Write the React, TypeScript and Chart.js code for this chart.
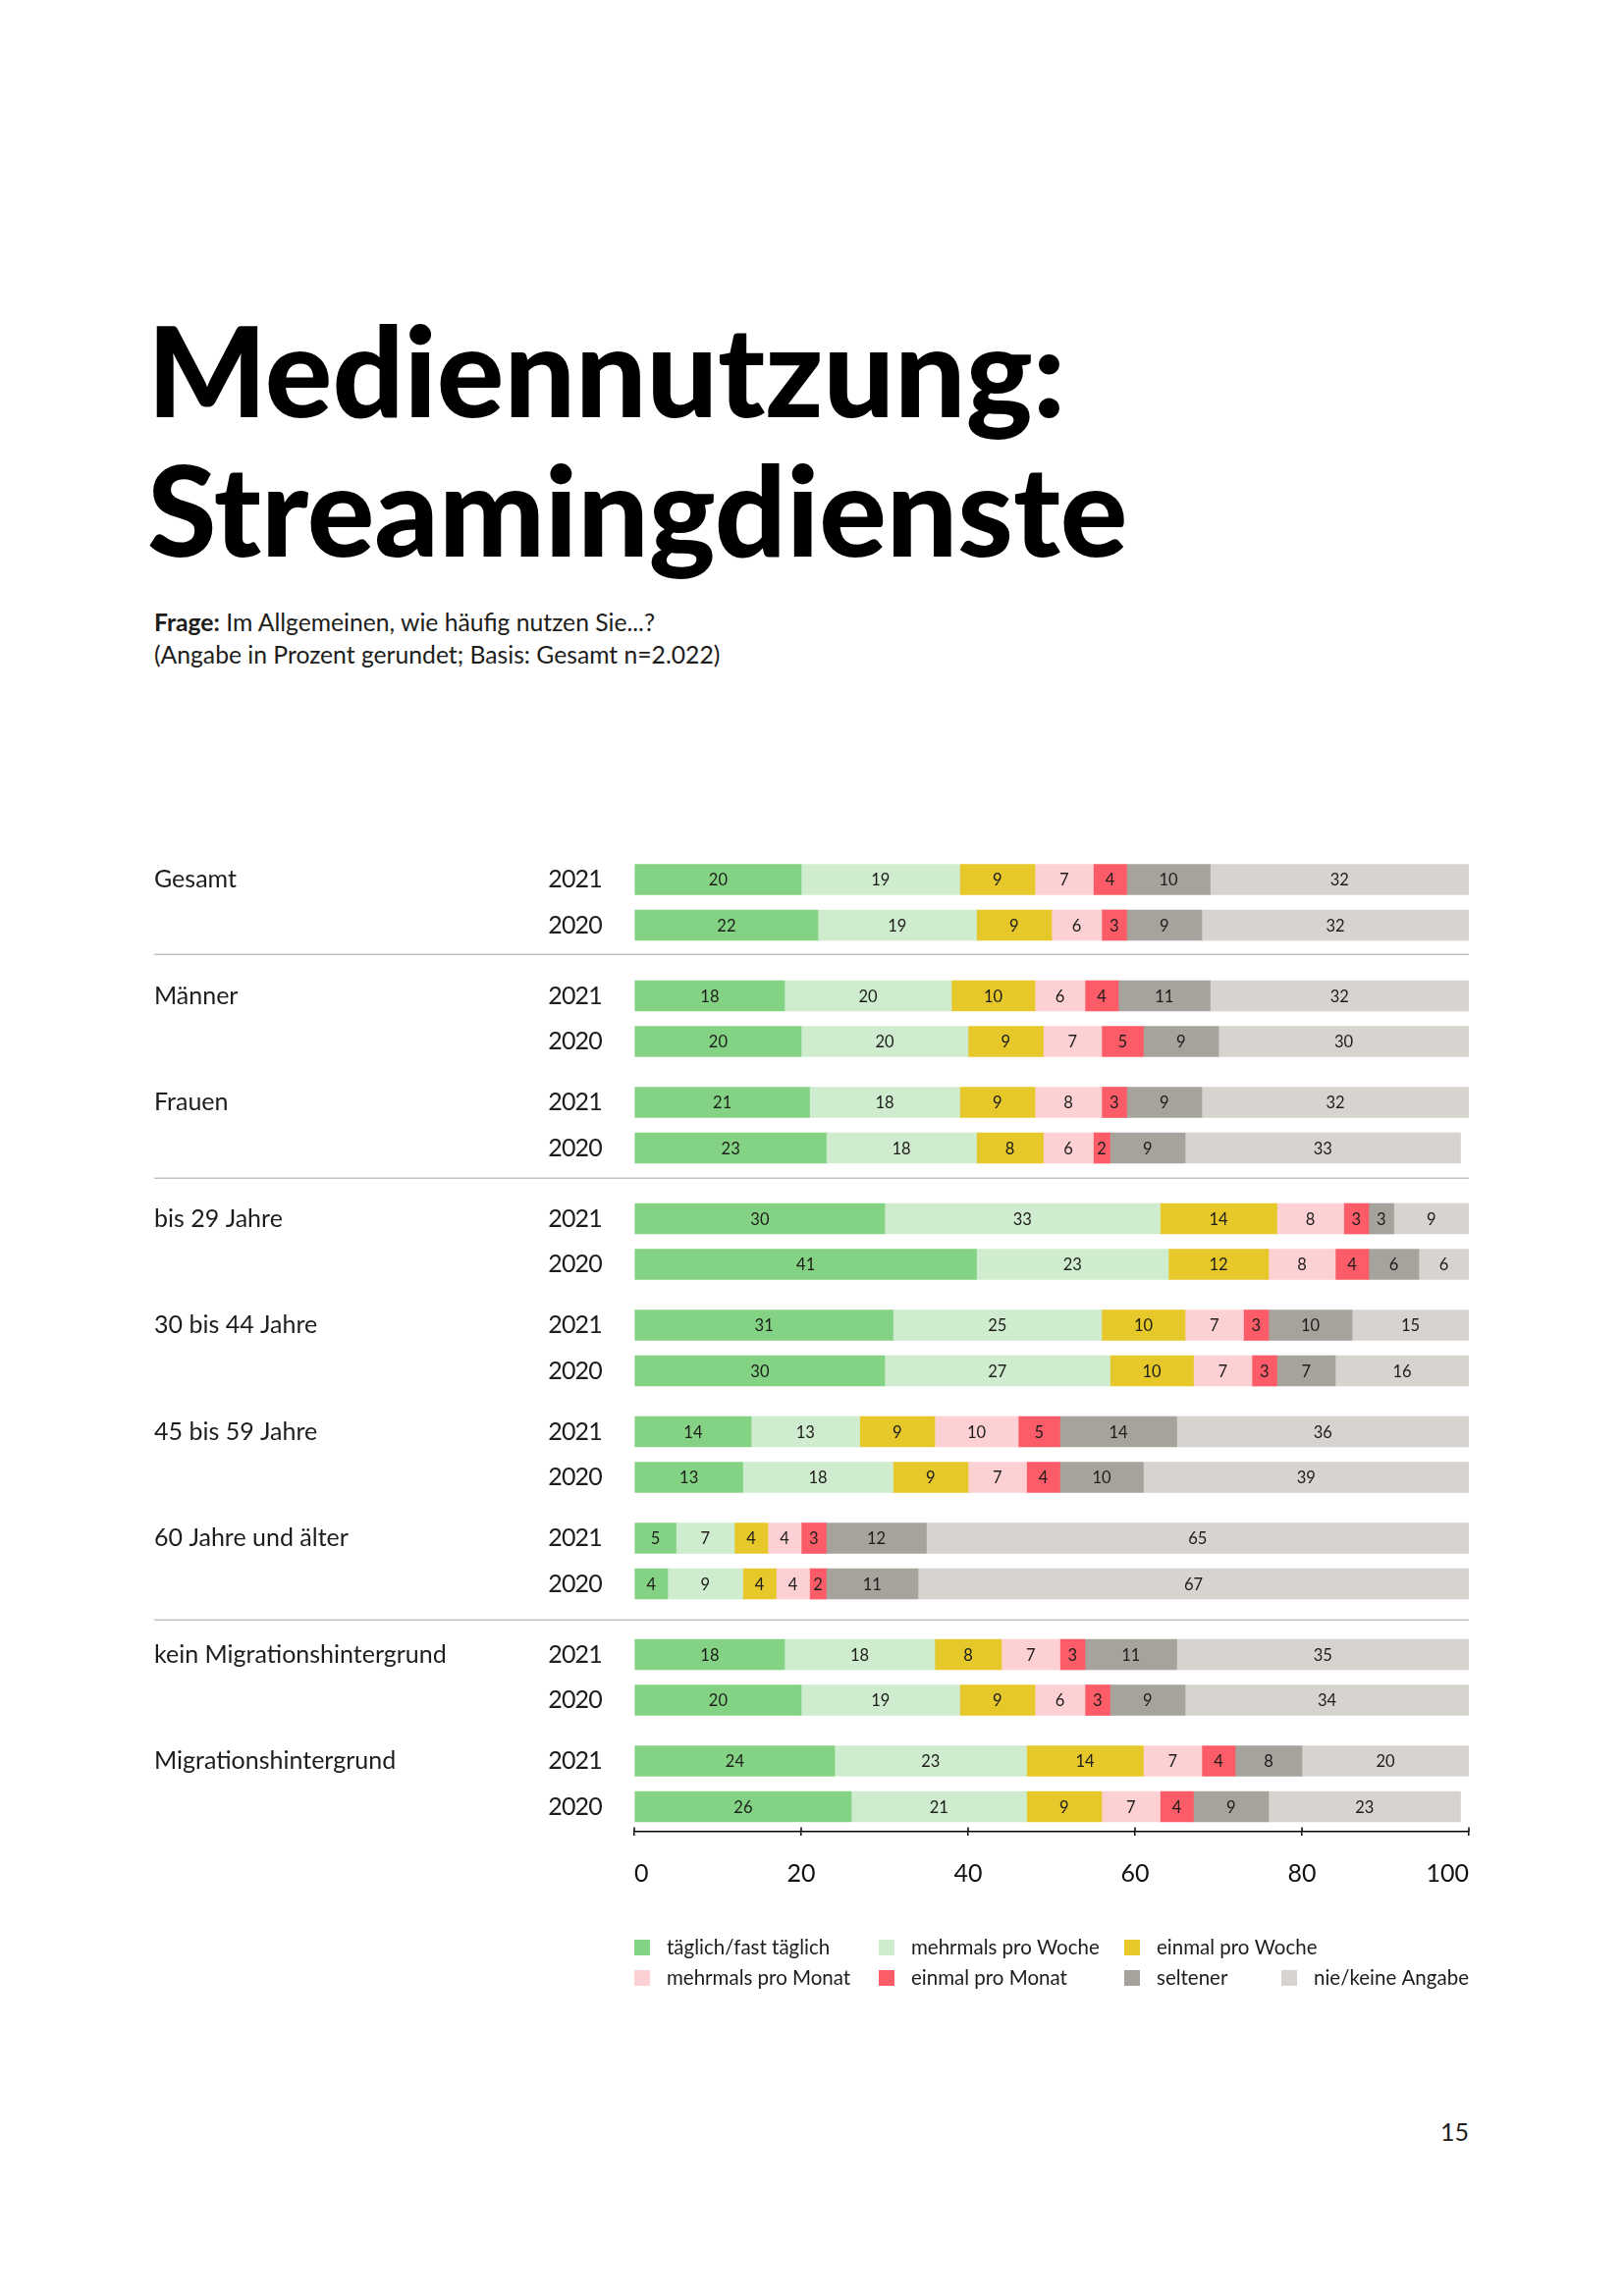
import React, { useEffect, useRef } from 'react';
import { Chart, registerables } from 'chart.js';

Chart.register(...registerables);

const FONT = 'Lato, "Open Sans", "DejaVu Sans", sans-serif';
const TEXT_COLOR = '#1d1d1b';

// ---- categories ----
const GROUPS = [
  'Gesamt',
  'Männer',
  'Frauen',
  'bis 29 Jahre',
  '30 bis 44 Jahre',
  '45 bis 59 Jahre',
  '60 Jahre und älter',
  'kein Migrationshintergrund',
  'Migrationshintergrund',
];
const YEARS = ['2021', '2020'];
const DIVIDER_BEFORE = [false, true, false, true, false, false, false, true, false];

// ---- series ----
const SERIES = [
  'täglich/fast täglich',
  'mehrmals pro Woche',
  'einmal pro Woche',
  'mehrmals pro Monat',
  'einmal pro Monat',
  'seltener',
  'nie/keine Angabe',
];
const COLORS = ['#84d384', '#cfeccf', '#e6c82b', '#fdd0d3', '#fc5c67', '#a6a39d', '#d7d3ce'];

// values per row (group x year: Gesamt 2021, Gesamt 2020, Männer 2021, ...)
const taeglich = [20, 22, 18, 20, 21, 23, 30, 41, 31, 30, 14, 13, 5, 4, 18, 20, 24, 26];
const mehrmalsWoche = [19, 19, 20, 20, 18, 18, 33, 23, 25, 27, 13, 18, 7, 9, 18, 19, 23, 21];
const einmalWoche = [9, 9, 10, 9, 9, 8, 14, 12, 10, 10, 9, 9, 4, 4, 8, 9, 14, 9];
const mehrmalsMonat = [7, 6, 6, 7, 8, 6, 8, 8, 7, 7, 10, 7, 4, 4, 7, 6, 7, 7];
const einmalMonat = [4, 3, 4, 5, 3, 2, 3, 4, 3, 3, 5, 4, 3, 2, 3, 3, 4, 4];
const seltener = [10, 9, 11, 9, 9, 9, 3, 6, 10, 7, 14, 10, 12, 11, 11, 9, 8, 9];
const nie = [32, 32, 32, 30, 32, 33, 9, 6, 15, 16, 36, 39, 65, 67, 35, 34, 20, 23];
const SERIES_VALUES = [taeglich, mehrmalsWoche, einmalWoche, mehrmalsMonat, einmalMonat, seltener, nie];

const X_TICKS = [0, 20, 40, 60, 80, 100];

// ---- layout (styles, not data) ----
const PAIR_STEP = 46.5;
const GROUP_STEP = 62;
const DIVIDER_STEP = 72;
const DIVIDER_OFFSETS = [29, 30, 36];
const BAR_THICKNESS = 31;
const LABEL_LEFT = 157;
const LEGEND_COLS = [0, 249, 499, 659];
const LEGEND_ROWS = [[0, 1, 2], [3, 4, 5, 6]];

// row positions on the (linear) index axis
const rowPos: number[] = [];
const dividerPos: number[] = [];
{
  let p = 0;
  let d = 0;
  GROUPS.forEach((_, g) => {
    if (g > 0) {
      if (DIVIDER_BEFORE[g]) {
        dividerPos.push(p + DIVIDER_OFFSETS[d++]);
        p += DIVIDER_STEP;
      } else {
        p += GROUP_STEP;
      }
    }
    rowPos.push(p);
    p += PAIR_STEP;
    rowPos.push(p);
  });
}

const overlayPlugin = {
  id: 'overlay',
  afterDatasetsDraw(chart: any) {
    const ctx = chart.ctx;
    const area = chart.chartArea;
    ctx.save();
    ctx.font = `16.5px ${FONT}`;
    ctx.fillStyle = TEXT_COLOR;
    ctx.textAlign = 'center';
    ctx.textBaseline = 'middle';
    chart.data.datasets.forEach((ds: any, di: number) => {
      const meta = chart.getDatasetMeta(di);
      meta.data.forEach((el: any, i: number) => {
        const { x, base, y } = el.getProps(['x', 'base', 'y'], true);
        const l = Math.max(area.left, Math.min(x, base));
        const r = Math.min(area.right, Math.max(x, base));
        ctx.fillText(String(ds.data[i].x), (l + r) / 2, y + 1);
      });
    });
    ctx.restore();
  },
  afterDraw(chart: any) {
    const ctx = chart.ctx;
    const area = chart.chartArea;
    const ys = chart.scales.y;
    const xs = chart.scales.x;
    ctx.save();
    // row labels
    ctx.fillStyle = TEXT_COLOR;
    ctx.font = `25px ${FONT}`;
    ctx.textBaseline = 'middle';
    rowPos.forEach((p, i) => {
      const y = ys.getPixelForValue(p);
      ctx.textAlign = 'right';
      ctx.letterSpacing = '-0.8px';
      ctx.fillText(YEARS[i % 2], area.left - 33, y);
      ctx.letterSpacing = '0px';
      if (i % 2 === 0) {
        ctx.textAlign = 'left';
        ctx.fillText(GROUPS[i / 2], LABEL_LEFT, y);
      }
    });
    // dividers
    ctx.strokeStyle = '#c3c1c5';
    ctx.lineWidth = 1.5;
    dividerPos.forEach((p) => {
      const y = Math.round(ys.getPixelForValue(p)) + 0.25;
      ctx.beginPath();
      ctx.moveTo(LABEL_LEFT, y);
      ctx.lineTo(area.right, y);
      ctx.stroke();
    });
    // upper part of axis ticks
    ctx.strokeStyle = '#000';
    ctx.lineWidth = 1.5;
    X_TICKS.forEach((t) => {
      const x = xs.getPixelForValue(t);
      ctx.beginPath();
      ctx.moveTo(x, area.bottom);
      ctx.lineTo(x, area.bottom - 4.5);
      ctx.stroke();
    });
    // legend
    ctx.font = `20.5px ${FONT}`;
    ctx.textAlign = 'left';
    ctx.textBaseline = 'middle';
    LEGEND_ROWS.forEach((items, r) => {
      const y = area.bottom + 118 + r * 31;
      items.forEach((si, c) => {
        const x = area.left + LEGEND_COLS[c];
        ctx.fillStyle = COLORS[si];
        ctx.fillRect(x, y - 8, 16, 16);
        ctx.fillStyle = TEXT_COLOR;
        ctx.fillText(SERIES[si], x + 33, y);
      });
    });
    ctx.restore();
  },
};

export default function App() {
  const ref = useRef<HTMLCanvasElement>(null);

  useEffect(() => {
    const canvas = ref.current;
    if (!canvas) return;
    const chart = new Chart(canvas, {
      type: 'bar',
      data: {
        datasets: SERIES.map((name, si) => ({
          label: name,
          stack: 'row',
          data: rowPos.map((p, ri) => ({ x: SERIES_VALUES[si][ri], y: p })),
          backgroundColor: COLORS[si],
          borderWidth: 0,
          barThickness: BAR_THICKNESS,
        })),
      } as any,
      options: {
        indexAxis: 'y',
        animation: false,
        responsive: false,
        maintainAspectRatio: false,
        events: [],
        layout: { padding: { left: 646, right: 158, top: 20, bottom: 174 } },
        scales: {
          x: {
            type: 'linear',
            stacked: true,
            min: 0,
            max: 100,
            position: 'bottom',
            afterFit: (scale: any) => {
              scale.height = 60;
            },
            border: { display: true, color: '#000', width: 1.5 },
            grid: { display: true, drawOnChartArea: false, color: '#000', lineWidth: 1.5, tickLength: 4 },
            ticks: {
              stepSize: 20,
              align: 'inner',
              padding: 24,
              color: '#111',
              font: { family: FONT, size: 25 },
            },
          },
          y: {
            type: 'linear',
            display: false,
            reverse: true,
            offset: false,
            bounds: 'data',
            grace: 0,
            min: -26,
            max: 970,
            grid: { offset: false },
          },
        },
        plugins: {
          legend: { display: false },
          tooltip: { enabled: false },
        },
      } as any,
      plugins: [overlayPlugin],
    });
    return () => chart.destroy();
  }, []);

  return (
    <div
      style={{
        position: 'absolute',
        left: 0,
        top: 0,
        width: 1654,
        height: 2339,
        background: '#fff',
        fontFamily: FONT,
        color: TEXT_COLOR,
        overflow: 'hidden',
      }}
    >
      <div
        style={{
          position: 'absolute',
          left: 150,
          top: 305,
          fontSize: 128,
          fontWeight: 900,
          lineHeight: '142px',
          letterSpacing: 0,
          whiteSpace: 'nowrap',
          color: '#000',
        }}
      >
        <div>Mediennutzung:</div>
        <div>Streamingdienste</div>
      </div>
      <div style={{ position: 'absolute', left: 157, top: 617, fontSize: 24.7, lineHeight: '33px', whiteSpace: 'nowrap' }}>
        <div>
          <span style={{ fontWeight: 700 }}>Frage:</span> Im Allgemeinen, wie häufig nutzen Sie...?
        </div>
        <div>(Angabe in Prozent gerundet; Basis: Gesamt n=2.022)</div>
      </div>
      <canvas
        ref={ref}
        width={1654}
        height={1250}
        style={{ position: 'absolute', left: 0, top: 850, width: 1654, height: 1250 }}
      />
      <div style={{ position: 'absolute', left: 1396, width: 100, top: 2156, fontSize: 25, lineHeight: '30px', textAlign: 'right' }}>
        15
      </div>
    </div>
  );
}
